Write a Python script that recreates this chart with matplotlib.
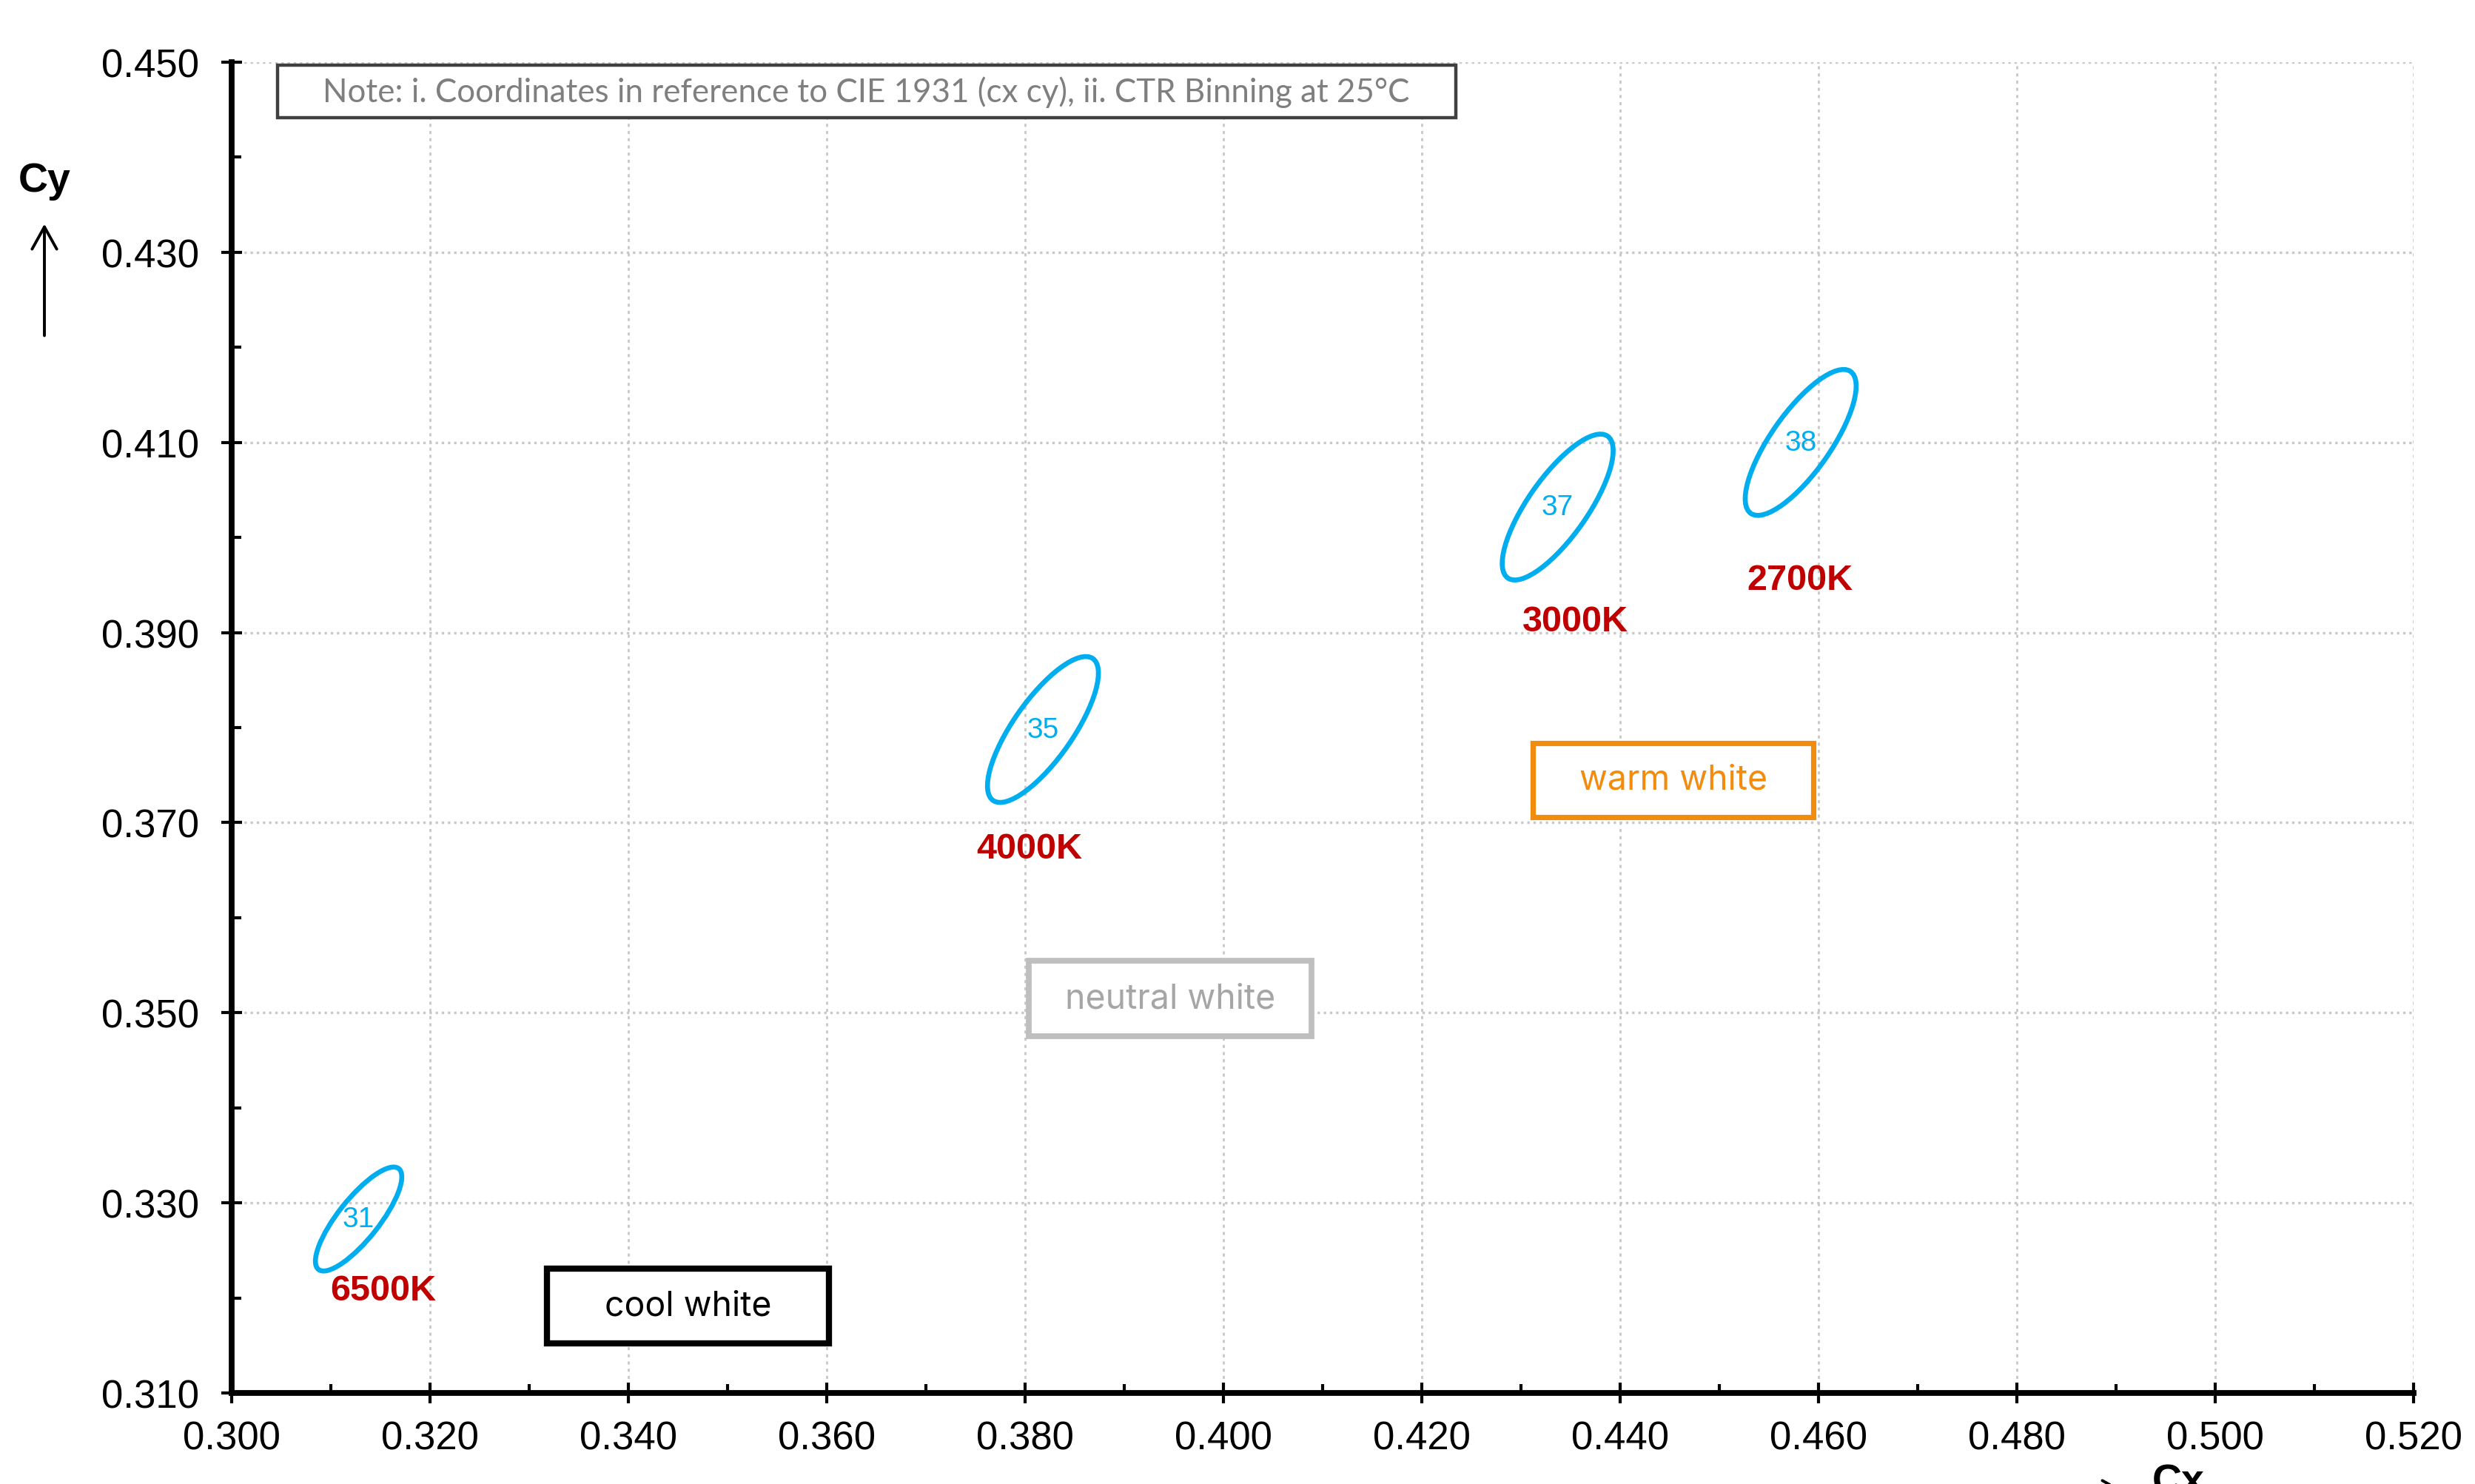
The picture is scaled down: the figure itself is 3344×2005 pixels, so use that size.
import matplotlib
matplotlib.use("Agg")
import matplotlib.pyplot as plt
from matplotlib.patches import Ellipse, Rectangle, FancyArrowPatch
from matplotlib.ticker import FormatStrFormatter

# Bin ellipses (CIE 1931 cx, cy)
bin_ids = ["31", "35", "37", "38"]
cct_labels = ["6500K", "4000K", "3000K", "2700K"]
center_x = [0.3128, 0.3818, 0.4337, 0.4582]
center_y = [0.3283, 0.3798, 0.4032, 0.4100]
semi_major = [0.00667, 0.00900, 0.00900, 0.00900]
semi_minor = [0.00209, 0.00303, 0.00303, 0.00303]
tilt_deg = [52.9, 56.3, 56.3, 56.3]

# CCT label positions
cct_x = [0.3153, 0.3804, 0.4355, 0.4581]
cct_y = [0.3208, 0.3673, 0.3912, 0.3955]

# axis ticks
x_major = [0.300, 0.320, 0.340, 0.360, 0.380, 0.400, 0.420, 0.440, 0.460, 0.480, 0.500, 0.520]
x_minor = [0.310, 0.330, 0.350, 0.370, 0.390, 0.410, 0.430, 0.450, 0.470, 0.490, 0.510]
y_major = [0.310, 0.330, 0.350, 0.370, 0.390, 0.410, 0.430, 0.450]
y_minor = [0.320, 0.340, 0.360, 0.380, 0.400, 0.420, 0.440]

# white category boxes: (x0, x1, y0, y1)
cat_names = ["cool white", "neutral white", "warm white"]
cat_x0 = [0.3318, 0.3804, 0.4312]
cat_x1 = [0.3602, 0.4089, 0.4595]
cat_y0 = [0.3152, 0.3475, 0.3706]
cat_y1 = [0.3231, 0.3555, 0.3784]
cat_edge = ["#000000", "#BFBFBF", "#F28C0F"]
cat_text = ["#000000", "#A6A6A6", "#F28C0F"]
cat_lw = [3.0, 2.8, 2.6]

note = "Note: i. Coordinates in reference to CIE 1931 (cx cy), ii. CTR Binning at 25°C"

blue = "#00AEEF"
red = "#C00000"

plt.rcParams["font.family"] = ["Liberation Sans", "DejaVu Sans"]

fig = plt.figure(figsize=(16.72, 10.03), dpi=200)
ax = fig.add_axes([0.0936, 0.0613, 0.9752 - 0.0936, 0.9576 - 0.0613])

ax.set_xlim(0.300, 0.520)
ax.set_ylim(0.310, 0.450)
ax.set_xticks(x_major)
ax.set_xticks(x_minor, minor=True)
ax.set_yticks(y_major)
ax.set_yticks(y_minor, minor=True)
ax.xaxis.set_major_formatter(FormatStrFormatter("%.3f"))
ax.yaxis.set_major_formatter(FormatStrFormatter("%.3f"))

for s in ["top", "right"]:
    ax.spines[s].set_visible(False)
for s in ["left", "bottom"]:
    ax.spines[s].set_linewidth(2.8)
    ax.spines[s].set_zorder(5)

ax.tick_params(which="major", direction="inout", length=10, width=1.5, labelsize=19)
ax.tick_params(axis="x", which="major", pad=8)
ax.tick_params(axis="y", which="major", pad=11)
ax.tick_params(which="minor", direction="in", length=4.5, width=1.5)

ax.grid(which="major", axis="y", color="#C8C8C8", linestyle=(0, (1, 1.5)), linewidth=1.2)
ax.grid(which="major", axis="x", color="#C8C8C8", linestyle=(0, (1.5, 2)), linewidth=1.0)
ax.set_axisbelow(True)

# ellipses with bin numbers
for i in range(len(bin_ids)):
    e = Ellipse((center_x[i], center_y[i]), 2 * semi_major[i], 2 * semi_minor[i],
                angle=tilt_deg[i], fill=False, edgecolor=blue, linewidth=2.4, zorder=3)
    ax.add_patch(e)
    ax.text(center_x[i], center_y[i], bin_ids[i], color=blue, fontsize=14,
            ha="center", va="center", zorder=4)
    ax.text(cct_x[i], cct_y[i], cct_labels[i], color=red, fontsize=17.5,
            fontweight="bold", ha="center", va="center", zorder=4)

# category boxes
for i in range(len(cat_names)):
    r = Rectangle((cat_x0[i], cat_y0[i]), cat_x1[i] - cat_x0[i], cat_y1[i] - cat_y0[i],
                  facecolor="white", edgecolor=cat_edge[i], linewidth=cat_lw[i], zorder=3)
    ax.add_patch(r)
    ax.text((cat_x0[i] + cat_x1[i]) / 2, (cat_y0[i] + cat_y1[i]) / 2, cat_names[i],
            color=cat_text[i], fontsize=16.7, family=["Inter", "DejaVu Sans"],
            ha="center", va="center", zorder=4)

# note box
nb = Rectangle((0.3046, 0.4442), 0.4234 - 0.3046, 0.4497 - 0.4442,
               facecolor="white", edgecolor="#404040", linewidth=1.6, zorder=3)
ax.add_patch(nb)
ax.text((0.3046 + 0.4234) / 2, (0.4442 + 0.4497) / 2, note, color="#7F7F7F",
        fontsize=15.8, family=["Lato", "DejaVu Sans"],
        ha="center", va="center", zorder=4)

# axis labels with arrows
fig.text(60 / 3344, 1 - 245 / 2006, "Cy", fontsize=20, fontweight="bold",
         ha="center", va="center")
fig.add_artist(FancyArrowPatch(
    (60 / 3344, 1 - 460 / 2006), (60 / 3344, 1 - 298 / 2006),
    transform=fig.transFigure, arrowstyle="->,head_length=0.9,head_width=0.5",
    mutation_scale=12, linewidth=1.4, color="black"))

fig.text(2908 / 3344, 1 - 1978 / 2006, "Cx", fontsize=20, fontweight="bold",
         ha="left", va="top")
fig.add_artist(FancyArrowPatch(
    (2720 / 3344, 1 - 2018 / 2006), (2880 / 3344, 1 - 2018 / 2006),
    transform=fig.transFigure, arrowstyle="->,head_length=0.9,head_width=0.5",
    mutation_scale=12, linewidth=1.4, color="black"))

fig.savefig("out.png", dpi=200)
